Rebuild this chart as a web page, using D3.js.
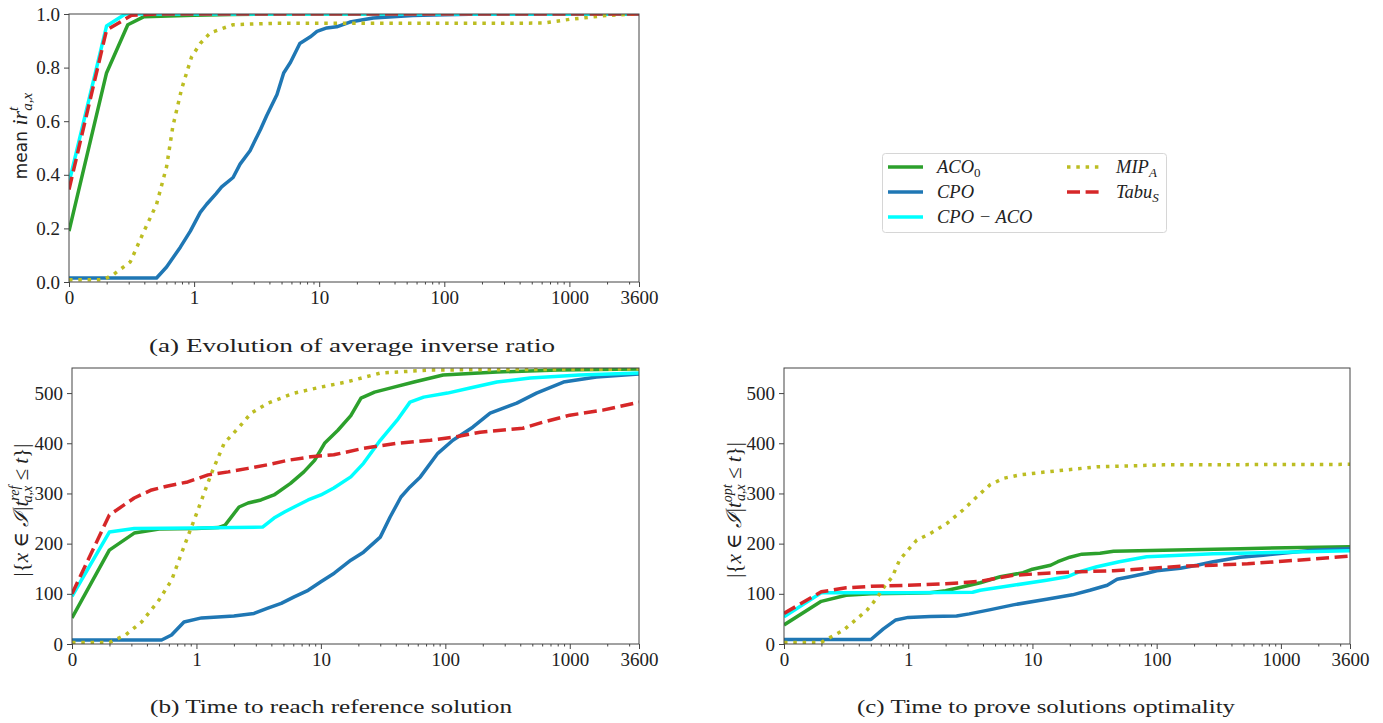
<!DOCTYPE html>
<html>
<head>
<meta charset="utf-8">
<title>Inverse ratio and solve times</title>
<script src="https://cdn.jsdelivr.net/npm/d3@7"></script>
<style>
body { margin: 0; background: #fff; }
svg text { font-family: "Liberation Serif", "DejaVu Serif", serif; fill: #222; }
</style>
</head>
<body>
<svg id="chart" width="1383" height="723"></svg>
<script>

// series, in plotting order (legend fills column by column)
var seriesNames = ["ACO_0", "CPO", "CPO-ACO", "MIP_A", "Tabu_S"];
var seriesColors = ["#2ca02c", "#1f77b4", "#00ffff", "#bcbd22", "#d62728"];
var seriesDash = [null, null, null, "3.5,5.8", "13,5.6"];

// x axis (seconds), linear up to 1 then log
var xTickValues = [0, 1, 10, 100, 1000, 3600];
var xTickLabels = ["0", "1", "10", "100", "1000", "3600"];

// (a) mean inverse ratio, [t, value]
var irACO = [[0,0.19],[0.3,0.78],[0.47,0.96],[0.6,0.99],[1,0.995],[2,0.998],[5,1],[3600,1]];
var irCPO = [[0,0.015],[0.7,0.015],[0.78,0.056],[0.89,0.13],[0.97,0.19],[1.12,0.26],[1.26,0.29],[1.5,0.33],[1.66,0.355],[2.05,0.39],[2.33,0.44],[2.8,0.49],[3.4,0.57],[3.8,0.62],[4.6,0.7],[5.2,0.78],[5.9,0.82],[7,0.89],[8.5,0.915],[9.6,0.935],[11.5,0.948],[13.8,0.952],[17.6,0.97],[27,0.985],[56,0.994],[100,0.997],[200,1],[3600,1]];
var irCPOACO = [[0,0.37],[0.3,0.955],[0.45,1],[3600,1]];
var irMIP = [[0,0.008],[0.27,0.008],[0.35,0.026],[0.49,0.075],[0.59,0.18],[0.7,0.29],[0.78,0.43],[0.83,0.58],[0.9,0.72],[0.98,0.84],[1.12,0.89],[1.35,0.93],[2.05,0.96],[4,0.965],[620,0.966],[1000,0.98],[2000,0.995],[3600,1]];
var irTabu = [[0,0.345],[0.3,0.94],[0.5,0.995],[0.7,1],[3600,1]];

// (b) instances reaching the reference solution
var refACO = [[0,52],[0.3,187],[0.5,221],[0.7,229],[1,230],[1.5,232],[1.7,237],[2.2,273],[2.6,281],[3.3,287],[4.2,297],[5.7,320],[7.3,343],[8.9,366],[10.7,400],[13.7,426],[17.4,455],[21,490],[27,502],[36,510],[56,522],[96,536],[260,542],[800,546],[3600,548]];
var refCPO = [[0,8],[0.72,8],[0.8,18],[0.9,44],[1.1,52],[2,56],[2.9,61],[3.7,71],[4.8,81],[6.1,94],[7.9,107],[10,124],[12.8,141],[17.4,167],[22,183],[30,213],[36,253],[44,293],[52,313],[63,333],[87,380],[115,406],[166,432],[229,460],[375,480],[540,500],[890,522],[1640,532],[3600,538]];
var refCPOACO = [[0,95],[0.3,223],[0.5,230],[1,231],[2,232],[3.4,233],[4.2,251],[5.1,263],[6.1,273],[7.9,287],[10,297],[12.7,311],[17.4,333],[22,360],[30,406],[41,446],[52,482],[67,492],[104,500],[158,510],[260,522],[480,530],[1200,536],[3600,540]];
var refMIP = [[0,3],[0.3,3],[0.43,18],[0.56,44],[0.7,88],[0.8,127],[0.88,181],[0.96,233],[1.1,287],[1.32,340],[1.67,400],[2.2,432],[2.75,460],[3.75,480],[6.1,500],[10,512],[16,522],[30,540],[76,546],[3600,548]];
var refTabu = [[0,100],[0.3,257],[0.5,291],[0.64,307],[0.77,315],[0.93,323],[1.24,337],[1.8,343],[2.6,350],[3.7,357],[5.4,366],[8.3,373],[12.7,377],[22,390],[41,400],[76,406],[116,412],[190,422],[420,430],[610,442],[1000,456],[1840,466],[3600,482]];

// (c) instances proven optimal
var optACO = [[0,38],[0.3,85],[0.5,97],[0.7,100],[1,101],[1.5,102],[2,106],[3,116],[3.8,122],[5.5,134],[8.4,142],[10,149],[14,157],[16,164],[20,173],[25,179],[35,181],[45,185],[113,187],[470,190],[3600,194]];
var optCPO = [[0,9],[0.7,9],[0.8,30],[0.9,48],[1,53],[1.5,55],[2.45,56],[3.1,60],[4.5,68],[7,78],[13,89],[21,98],[29,107],[40,117],[48,129],[61,134],[83,141],[100,146],[155,151],[211,157],[285,164],[470,173],[720,177],[1800,187],[3600,190]];
var optCPOACO = [[0,54],[0.3,102],[0.5,102],[1,102],[3.3,103],[3.8,107],[7,117],[13,127],[19,134],[24,144],[33,154],[50,164],[83,174],[155,177],[285,180],[470,181],[3600,186]];
var optMIP = [[0,3],[0.3,3],[0.33,8],[0.41,18],[0.48,28],[0.6,53],[0.67,68],[0.72,83],[0.77,100],[0.81,115],[0.87,133],[0.93,167],[0.99,185],[1.17,207],[1.5,220],[2.04,240],[2.76,267],[3.55,293],[4.55,317],[5.8,330],[7.9,337],[13,343],[33,353],[112,357],[3600,358]];
var optTabu = [[0,61],[0.3,104],[0.5,112],[0.7,115],[1,117],[2,120],[3,123],[3.8,125],[7,137],[13,141],[24,144],[45,146],[93,151],[155,155],[285,157],[540,160],[1350,167],[3600,175]];

var svg = d3.select("#chart");

// symlog with linthresh 1: linear on [0,1], one decade per unit after
function symT(t) { return t <= 1 ? t : 1 + Math.log10(t); }

function timeScale(range) {
  var lin = d3.scaleLinear().domain([0, symT(3600)]).range(range);
  var s = function(t) { return lin(symT(t)); };
  s.copy = function() { return timeScale(range); };
  s.range = function() { return lin.range(); };
  s.domain = function() { return [0, 3600]; };
  return s;
}

// minor tick positions, as matplotlib puts them
var minorTicks = [];
for (var k = 2; k <= 9; k++) minorTicks.push(Math.log10(k));
[1, 10, 100].forEach(function(d) { for (var k = 2; k <= 9; k++) minorTicks.push(k * d); });
minorTicks.push(2000, 3000);

function drawPanel(p, idx) {
  var x = timeScale([p.left, p.right]);
  var y = d3.scaleLinear().domain([0, p.yMax]).range([p.bottom, p.top]);
  var g = svg.append("g");

  g.append("clipPath").attr("id", "clip" + idx)
    .append("rect").attr("x", p.left).attr("y", p.top)
    .attr("width", p.right - p.left).attr("height", p.bottom - p.top);

  var line = d3.line().x(function(d) { return x(d[0]); }).y(function(d) { return y(d[1]); });

  g.append("g").attr("clip-path", "url(#clip" + idx + ")")
    .selectAll("path").data(p.series).enter().append("path")
      .attr("d", line)
      .attr("fill", "none")
      .attr("stroke", function(d, i) { return seriesColors[i]; })
      .attr("stroke-width", 3.5)
      .attr("stroke-dasharray", function(d, i) { return seriesDash[i]; })
      .attr("stroke-linejoin", "round");

  // frame
  g.append("rect").attr("x", p.left).attr("y", p.top)
    .attr("width", p.right - p.left).attr("height", p.bottom - p.top)
    .attr("fill", "none").attr("stroke", "#444").attr("stroke-width", 1);

  var xAxis = d3.axisBottom(x).tickValues(xTickValues)
    .tickFormat(function(d, i) { return xTickLabels[i]; }).tickSize(5).tickPadding(4);
  var xg = g.append("g").attr("transform", "translate(0," + p.bottom + ")").call(xAxis);
  g.append("g").attr("transform", "translate(0," + p.bottom + ")")
    .call(d3.axisBottom(x).tickValues(minorTicks).tickFormat("").tickSize(2.5))
    .select(".domain").remove();

  var yAxis = d3.axisLeft(y).tickValues(p.yTicks).tickFormat(p.yFormat).tickSize(5).tickPadding(4);
  var yg = g.append("g").attr("transform", "translate(" + p.left + ",0)").call(yAxis);

  [xg, yg].forEach(function(a) {
    a.select(".domain").remove();
    a.selectAll("text").attr("font-size", 19).attr("font-family", "Liberation Serif").attr("fill", "#222");
  });
  g.selectAll(".tick line").attr("stroke", "#444");

  // caption under the panel
  g.append("text")
    .attr("x", p.captionX).attr("y", p.captionY)
    .attr("text-anchor", "middle")
    .attr("font-size", 19.5)
    .attr("textLength", p.captionW).attr("lengthAdjust", "spacingAndGlyphs")
    .text(p.caption);

  p.ylabel(g);
}

function countLabel(sup) {
  return function(g) {
    var t = g.append("text")
      .attr("transform", "translate(" + this.lx + "," + this.ly + ") rotate(-90)")
      .attr("text-anchor", "middle").attr("font-size", 21);
    t.append("tspan").text("|{");
    t.append("tspan").attr("font-style", "italic").text("x");
    t.append("tspan").text(" \u2208 ");
    t.append("tspan").attr("font-style", "italic").text("\u2110");
    t.append("tspan").text("|");
    t.append("tspan").attr("font-style", "italic").text("t");
    t.append("tspan").attr("font-style", "italic").attr("font-size", 14).attr("dy", -9).text(sup);
    t.append("tspan").attr("font-style", "italic").attr("font-size", 14)
      .attr("dx", -(sup.length * 5.6)).attr("dy", 13).text("a,x");
    t.append("tspan").attr("dy", -4).text(" \u2264 ");
    t.append("tspan").attr("font-style", "italic").text("t");
    t.append("tspan").text("}|");
  };
}

var panels = [
  { left: 69, right: 639, top: 14, bottom: 282, yMax: 1,
    yTicks: [0, 0.2, 0.4, 0.6, 0.8, 1], yFormat: d3.format(".1f"),
    series: [irACO, irCPO, irCPOACO, irMIP, irTabu],
    caption: "(a) Evolution of average inverse ratio", captionX: 352, captionY: 352, captionW: 406,
    ylabel: function(g) {
      var t = g.append("text").attr("transform", "translate(27,136) rotate(-90)")
        .attr("text-anchor", "middle").attr("font-size", 22);
      t.append("tspan").attr("font-family", "DejaVu Sans").attr("font-size", 17).text("mean ");
      t.append("tspan").attr("font-style", "italic").text("ir");
      t.append("tspan").attr("font-style", "italic").attr("font-size", 15).attr("dy", -9).text("t");
      t.append("tspan").attr("font-style", "italic").attr("font-size", 15).attr("dx", -4).attr("dy", 14).text("a,x");
    } },
  { left: 72, right: 639, top: 368, bottom: 644, yMax: 550,
    yTicks: [0, 100, 200, 300, 400, 500], yFormat: d3.format("d"),
    series: [refACO, refCPO, refCPOACO, refMIP, refTabu],
    caption: "(b) Time to reach reference solution", captionX: 331, captionY: 713, captionW: 362,
    ylabel: countLabel("ref").bind({ lx: 28, ly: 510 }) },
  { left: 784, right: 1350, top: 368, bottom: 644, yMax: 550,
    yTicks: [0, 100, 200, 300, 400, 500], yFormat: d3.format("d"),
    series: [optACO, optCPO, optCPOACO, optMIP, optTabu],
    caption: "(c) Time to prove solutions optimality", captionX: 1046, captionY: 713, captionW: 378,
    ylabel: countLabel("opt").bind({ lx: 741, ly: 510 }) }
];

panels.forEach(drawPanel);

// legend
var legend = svg.append("g");
legend.append("rect").attr("x", 882.5).attr("y", 153.5).attr("width", 284).attr("height", 79)
  .attr("rx", 3).attr("fill", "#fff").attr("stroke", "#d6d6d6");

var legendPos = [[888, 167], [888, 192], [888, 217], [1067, 167], [1067, 192]];
var legendLabels = [["ACO", "0"], ["CPO", ""], ["CPO \u2212 ACO", ""], ["MIP", "A"], ["Tabu", "S"]];

var items = legend.selectAll("g.item").data(seriesNames).enter().append("g")
  .attr("transform", function(d, i) { return "translate(" + legendPos[i][0] + "," + legendPos[i][1] + ")"; });
items.append("line").attr("x1", 0).attr("x2", 35).attr("y1", 0).attr("y2", 0)
  .attr("stroke", function(d, i) { return seriesColors[i]; })
  .attr("stroke-width", 3.5)
  .attr("stroke-dasharray", function(d, i) { return seriesDash[i]; });
var lt = items.append("text").attr("x", 49).attr("y", 6).attr("font-size", 18.5).attr("font-style", "italic");
lt.append("tspan").text(function(d, i) { return legendLabels[i][0]; });
lt.append("tspan").attr("font-size", 13).attr("dy", 4)
  .attr("font-style", function(d, i) { return i === 0 ? "normal" : "italic"; })
  .text(function(d, i) { return legendLabels[i][1]; });

</script>
</body>
</html>
